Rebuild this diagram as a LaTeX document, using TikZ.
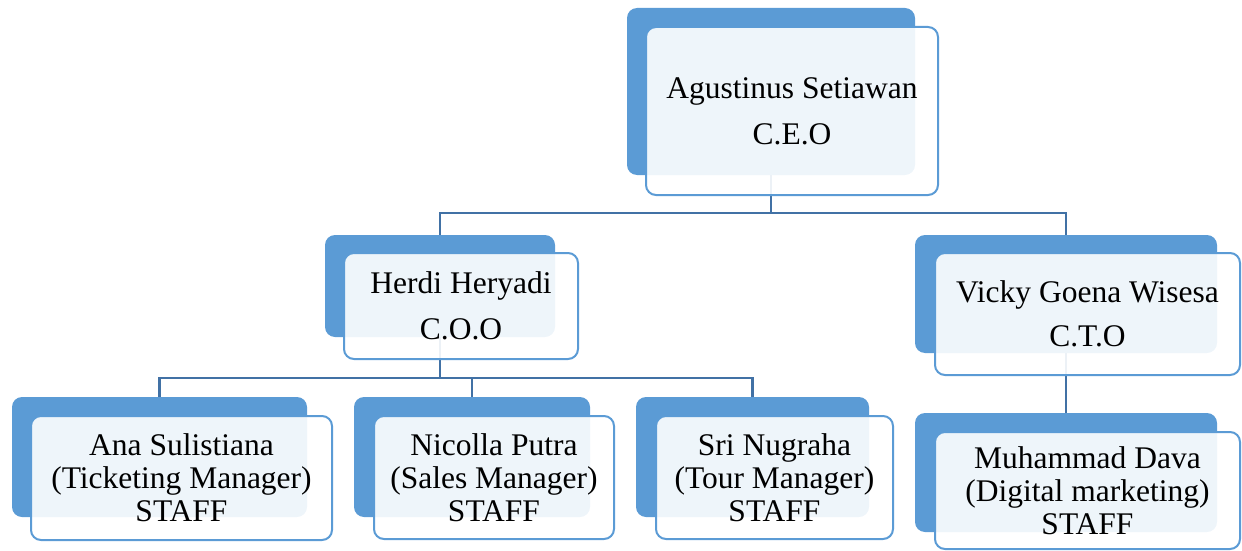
\documentclass[tikz,border=0pt]{standalone}
\usepackage{fontspec}
\setmainfont{Liberation Serif}
\usetikzlibrary{calc,positioning}
\definecolor{boxblue}{RGB}{91,155,213}
\definecolor{linkblue}{RGB}{65,113,165}

\begin{document}
\begin{tikzpicture}[
 x=1pt, y=-1pt,
 back/.style n args={2}{fill=boxblue, rounded corners=10pt, inner sep=0pt,
 minimum width=#1, minimum height=#2},
 front/.style n args={2}{draw=boxblue, line width=2pt, fill=white, fill opacity=0.9,
 text opacity=1, rounded corners=10pt, inner sep=0pt, align=center,
 minimum width=#1, minimum height=#2, font=\fontsize{31.5}{33}\selectfont},
 link/.style={draw=linkblue, line width=2.5pt}
]
\useasboundingbox (0,0) rectangle (1242,551);

% Back plates
\node[back={288pt}{167pt}] (ceoback) at (771,91.5) {};
\node[back={230pt}{102pt}] (cooback) at (440,286) {};
\node[back={302pt}{118pt}] (ctoback) at (1066,294) {};
\node[back={295pt}{120pt}] (anaback) at (159.5,457) {};
\node[back={236pt}{120pt}] (nicollaback) at (472,457) {};
\node[back={233pt}{120pt}] (sriback) at (752.5,457) {};
\node[back={302pt}{119pt}] (davaback) at (1066,472.5) {};

% Links
\coordinate (ceobus) at (771,213);
\draw[link] (ceoback.south) -- (ceobus) -| (cooback.north);
\draw[link] (ceobus) -| (ctoback.north);
\coordinate (coobus) at (440,378);
\draw[link] (cooback.south) -- (coobus) -| (anaback.north);
\draw[link] (coobus) -| (nicollaback.north);
\draw[link] (coobus) -| (sriback.north);
\draw[link] (ctoback.south) -- (davaback.north);

% Root
\node[front={292pt}{168pt}] (ceo) at (792,111) {Agustinus Setiawan\\[13pt]C.E.O};

% Level 1
\node[front={234pt}{106pt}] (coo) at (461,306) {Herdi Heryadi\\[13pt]C.O.O};
\node[front={305pt}{122pt}] (cto) at (1087.5,314) {Vicky Goena Wisesa\\[11pt]C.T.O};

% Level 2: staff
\node[front={301pt}{124pt}] (ana) at (181.5,478) {Ana Sulistiana\\(Ticketing Manager)\\STAFF};
\node[front={240pt}{123pt}] (nicolla) at (494,477.5) {Nicolla Putra\\(Sales Manager)\\STAFF};
\node[front={237pt}{123pt}] (sri) at (774.5,477.5) {Sri Nugraha\\(Tour Manager)\\STAFF};
\node[front={305pt}{117pt}] (dava) at (1087.5,490.5) {Muhammad Dava\\(Digital marketing)\\STAFF};
\end{tikzpicture}
\end{document}
